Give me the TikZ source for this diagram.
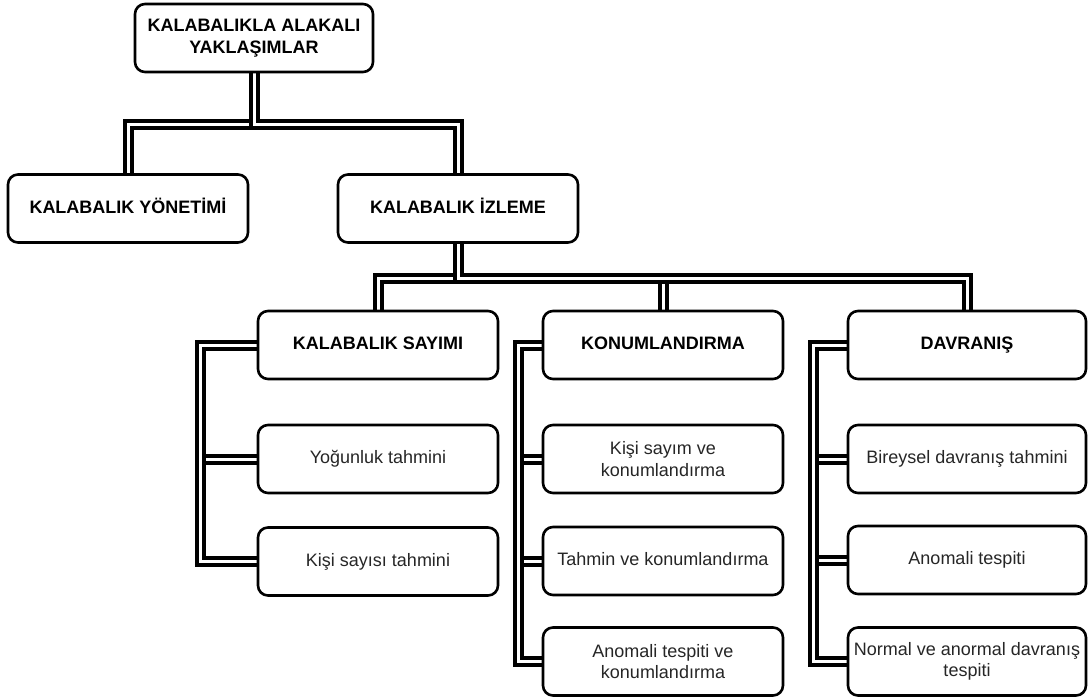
\documentclass[tikz,border=0pt]{standalone}
\usepackage{fontspec}
\setmainfont{Liberation Sans}
\usetikzlibrary{backgrounds}
\begin{document}
\begin{tikzpicture}[x=1pt,y=-1pt,
  box/.style={draw=black, line width=2.6pt, rounded corners=10pt, fill=white,
    minimum width=240pt, minimum height=68pt, inner sep=0pt, align=center,
    font=\fontsize{18}{21.5}\selectfont, text=black!85},
  head/.style={box, font=\fontsize{18}{21.5}\selectfont\bfseries, text=black},
  one/.style={text height=13pt, text depth=4pt},
  link/.style={draw=black, line width=4pt, double=white, double distance=3pt}]
\useasboundingbox (0,0) rectangle (1088,699);
\node[head, minimum width=238pt] (top) at (254,38) {KALABALIKLA ALAKALI\\YAKLAŞIMLAR};
\node[head, one] (yon) at (128,208.5) {KALABALIK YÖNETİMİ};
\node[head, one] (izl) at (458,208.5) {KALABALIK İZLEME};
\node[head, one] (say) at (378,345) {KALABALIK SAYIMI};
\node[head, one] (kon) at (663,345) {KONUMLANDIRMA};
\node[head, one, minimum width=238pt] (dav) at (967,345) {DAVRANIŞ};
\node[box, one] (yog) at (378,459) {Yoğunluk tahmini};
\node[box, one] (kis) at (378,561.5) {Kişi sayısı tahmini};
\node[box] (ks) at (663,459) {Kişi sayım ve\\konumlandırma};
\node[box, one] (tah) at (663,561) {Tahmin ve konumlandırma};
\node[box] (ano1) at (663,661.5) {Anomali tespiti ve\\konumlandırma};
\node[box, one, minimum width=238pt] (bir) at (967,459) {Bireysel davranış tahmini};
\node[box, one, minimum width=238pt] (ano2) at (967,560) {Anomali tespiti};
\node[box, minimum width=238pt] (nor) at (967,661.5) {Normal ve anormal davranış\\tespiti};
\begin{scope}[on background layer]
\draw[link] (top.south) -- ++(0,51) -| (yon.north);
\draw[link] (top.south) -- ++(0,51) -| (izl.north);
\draw[link] (izl.south) -- ++(0,35) -| (say.north);
\draw[link] (izl.south) -- ++(0,35) -| (kon.north);
\draw[link] (izl.south) -- ++(0,35) -| (dav.north);
\draw[link] (say.west) -- ++(-56,0) |- (yog.west);
\draw[link] (say.west) -- ++(-56,0) |- (kis.west);
\draw[link] (kon.west) -- ++(-23,0) |- (ks.west);
\draw[link] (kon.west) -- ++(-23,0) |- (tah.west);
\draw[link] (kon.west) -- ++(-23,0) |- (ano1.west);
\draw[link] (dav.west) -- ++(-33,0) |- (bir.west);
\draw[link] (dav.west) -- ++(-33,0) |- (ano2.west);
\draw[link] (dav.west) -- ++(-33,0) |- (nor.west);
\end{scope}
\end{tikzpicture}
\end{document}
